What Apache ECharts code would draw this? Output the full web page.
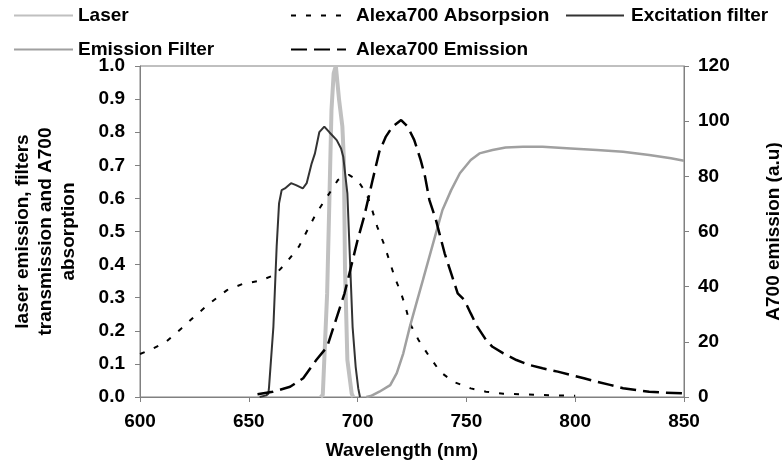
<!DOCTYPE html>
<html>
<head>
<meta charset="utf-8">
<script src="https://cdn.jsdelivr.net/npm/echarts@6/dist/echarts.min.js"></script>
<style>
  html, body { margin: 0; padding: 0; background: #fff; }
  #chart { width: 782px; height: 467px; }
</style>
</head>
<body>
<div id="chart"></div>
<script>
// wavelength (nm) / value pairs
const laserNm  = [683, 684, 686, 687, 688, 689, 690, 691.5, 693, 693.7, 694.2, 695.3, 697.3, 698];
const laserVal = [0, 0.006, 0.313, 0.585, 0.867, 0.978, 1.0, 0.897, 0.817, 0.716, 0.394, 0.112, 0.01, 0];

const absNm  = [600, 605, 612, 619, 625, 632, 640, 647, 655, 662, 667, 673, 677, 681, 686, 691, 696, 700, 704, 706, 709, 712, 715, 717, 720, 722, 724, 728, 733, 738, 744, 752, 759, 767, 775, 790, 800];
const absVal = [0.13, 0.143, 0.167, 0.207, 0.243, 0.283, 0.323, 0.341, 0.351, 0.369, 0.404, 0.454, 0.505, 0.555, 0.605, 0.656, 0.671, 0.655, 0.615, 0.58, 0.515, 0.464, 0.404, 0.363, 0.313, 0.273, 0.223, 0.172, 0.122, 0.076, 0.046, 0.026, 0.016, 0.01, 0.008, 0.005, 0.004];

const exNm  = [655, 658, 659, 659.3, 661.3, 662.8, 663.9, 665.1, 666.6, 669.4, 671.7, 674.8, 676.6, 678.9, 680.4, 682.4, 684.7, 687, 690.4, 692.4, 693.4, 695.3, 696.5, 697.7, 699.1, 700.3, 701.1];
const exVal = [0, 0.005, 0.01, 0.03, 0.212, 0.454, 0.585, 0.625, 0.63, 0.646, 0.64, 0.63, 0.646, 0.706, 0.736, 0.80, 0.817, 0.80, 0.776, 0.751, 0.726, 0.615, 0.414, 0.212, 0.092, 0.026, 0];

const efNm  = [704, 706, 710, 715, 718, 721, 724, 727, 730, 733, 736, 739, 743, 747, 752, 756, 762, 768, 776, 785, 798, 810, 822, 834, 844, 850];
const efVal = [0, 0.003, 0.016, 0.036, 0.072, 0.132, 0.212, 0.283, 0.353, 0.424, 0.495, 0.565, 0.625, 0.676, 0.716, 0.736, 0.746, 0.754, 0.756, 0.756, 0.751, 0.746, 0.741, 0.731, 0.721, 0.714];

// right axis (a.u)
const emNm  = [654, 661, 669, 675, 681, 686, 690, 694, 697, 700, 703, 707, 710, 713, 716, 720, 723, 726, 729, 731, 733, 736, 738, 740, 743, 746, 749, 752, 755, 759, 762, 767, 773, 779, 785, 792, 798, 804, 810, 816, 822, 828, 834, 841, 850];
const emVal = [1.0, 1.9, 3.7, 6.8, 13.4, 18.2, 27.9, 37.6, 47.2, 56.9, 65.4, 79, 89, 94.4, 98.0, 100.4, 98.0, 93.2, 85.9, 79.9, 71.4, 64.2, 58.1, 52.1, 44.8, 37.6, 35.2, 30.3, 25.5, 20.7, 18.2, 15.8, 13.4, 11.6, 10.4, 9.2, 8.0, 6.8, 5.5, 4.4, 3.2, 2.5, 1.9, 1.6, 1.3];

const FONT = '"Liberation Sans", Arial, sans-serif';

function pairs(xs, ys) {
  return xs.map((x, i) => [x, ys[i]]);
}

function legendAt(name, left, top, width, gap) {
  return {
    data: [name],
    left: left,
    top: top,
    padding: 0,
    itemWidth: width,
    itemHeight: 14,
    selectedMode: false,
    itemStyle: { opacity: 0 },
    textStyle: { fontFamily: FONT, fontWeight: 'bold', fontSize: 19, color: '#000', padding: [0, 0, 0, gap] }
  };
}

const chart = echarts.init(document.getElementById('chart'));
chart.setOption({
  animation: false,
  backgroundColor: '#fff',
  legend: [
    legendAt('Laser', 13, 6, 59, 0),
    legendAt('Emission Filter', 13, 40, 59, 0),
    legendAt('Alexa700 Absorpsion', 290, 6, 55, 5),
    legendAt('Alexa700 Emission', 290, 40, 55, 5),
    legendAt('Excitation filter', 565, 6, 58, 2)
  ],
  grid: {
    left: 140, right: 98, top: 66, bottom: 70,
    containLabel: false, outerBoundsMode: 'none',
    show: true, borderColor: '#808080', borderWidth: 1
  },
  xAxis: {
    type: 'value', min: 600, max: 850, interval: 50,
    name: 'Wavelength (nm)', nameLocation: 'middle', nameGap: 44,
    nameTextStyle: { fontFamily: FONT, fontWeight: 'bold', fontSize: 19, color: '#000', padding: [0, 20, 0, 0] },
    axisLine: { lineStyle: { color: '#808080' } },
    axisTick: { inside: false, length: 5, lineStyle: { color: '#808080' } },
    axisLabel: { fontFamily: FONT, fontWeight: 'bold', fontSize: 19, color: '#000', margin: 15 },
    splitLine: { show: false }
  },
  yAxis: [
    {
      type: 'value', min: 0, max: 1, interval: 0.1, position: 'left',
      name: 'laser emission, filters\ntransmission and A700\nabsorption',
      nameLocation: 'middle', nameGap: 60, nameRotate: 90,
      nameTextStyle: { fontFamily: FONT, fontWeight: 'bold', fontSize: 19, color: '#000', lineHeight: 23, align: 'center' },
      axisLine: { show: true, lineStyle: { color: '#808080' } },
      axisTick: { show: true, length: 5, lineStyle: { color: '#808080' } },
      axisLabel: { fontFamily: FONT, fontWeight: 'bold', fontSize: 19, color: '#000', margin: 15, formatter: v => v.toFixed(1) },
      splitLine: { show: false }
    },
    {
      type: 'value', min: 0, max: 120, interval: 20, position: 'right',
      name: 'A700 emission (a.u)',
      nameLocation: 'middle', nameGap: 80, nameRotate: 90,
      nameTextStyle: { fontFamily: FONT, fontWeight: 'bold', fontSize: 19, color: '#000' },
      axisLine: { show: true, lineStyle: { color: '#808080' } },
      axisTick: { show: true, length: 5, lineStyle: { color: '#808080' } },
      axisLabel: { fontFamily: FONT, fontWeight: 'bold', fontSize: 19, color: '#000', margin: 14 },
      splitLine: { show: false }
    }
  ],
  series: [
    {
      name: 'Laser', type: 'line', symbol: 'none', data: pairs(laserNm, laserVal),
      lineStyle: { color: '#c0c0c0', width: 4 }, itemStyle: { color: '#c0c0c0' }
    },
    {
      name: 'Alexa700 Absorpsion', type: 'line', symbol: 'none', data: pairs(absNm, absVal),
      lineStyle: { color: '#000', width: 2, type: [5, 10] }, itemStyle: { color: '#000' }
    },
    {
      name: 'Excitation filter', type: 'line', symbol: 'none', data: pairs(exNm, exVal),
      lineStyle: { color: '#333', width: 2 }, itemStyle: { color: '#333' }
    },
    {
      name: 'Emission Filter', type: 'line', symbol: 'none', data: pairs(efNm, efVal),
      lineStyle: { color: '#a0a0a0', width: 2.5 }, itemStyle: { color: '#a0a0a0' }
    },
    {
      name: 'Alexa700 Emission', type: 'line', symbol: 'none', yAxisIndex: 1, data: pairs(emNm, emVal),
      lineStyle: { color: '#000', width: 2.5, type: [16, 7] }, itemStyle: { color: '#000' }
    }
  ]
});
</script>
</body>
</html>
